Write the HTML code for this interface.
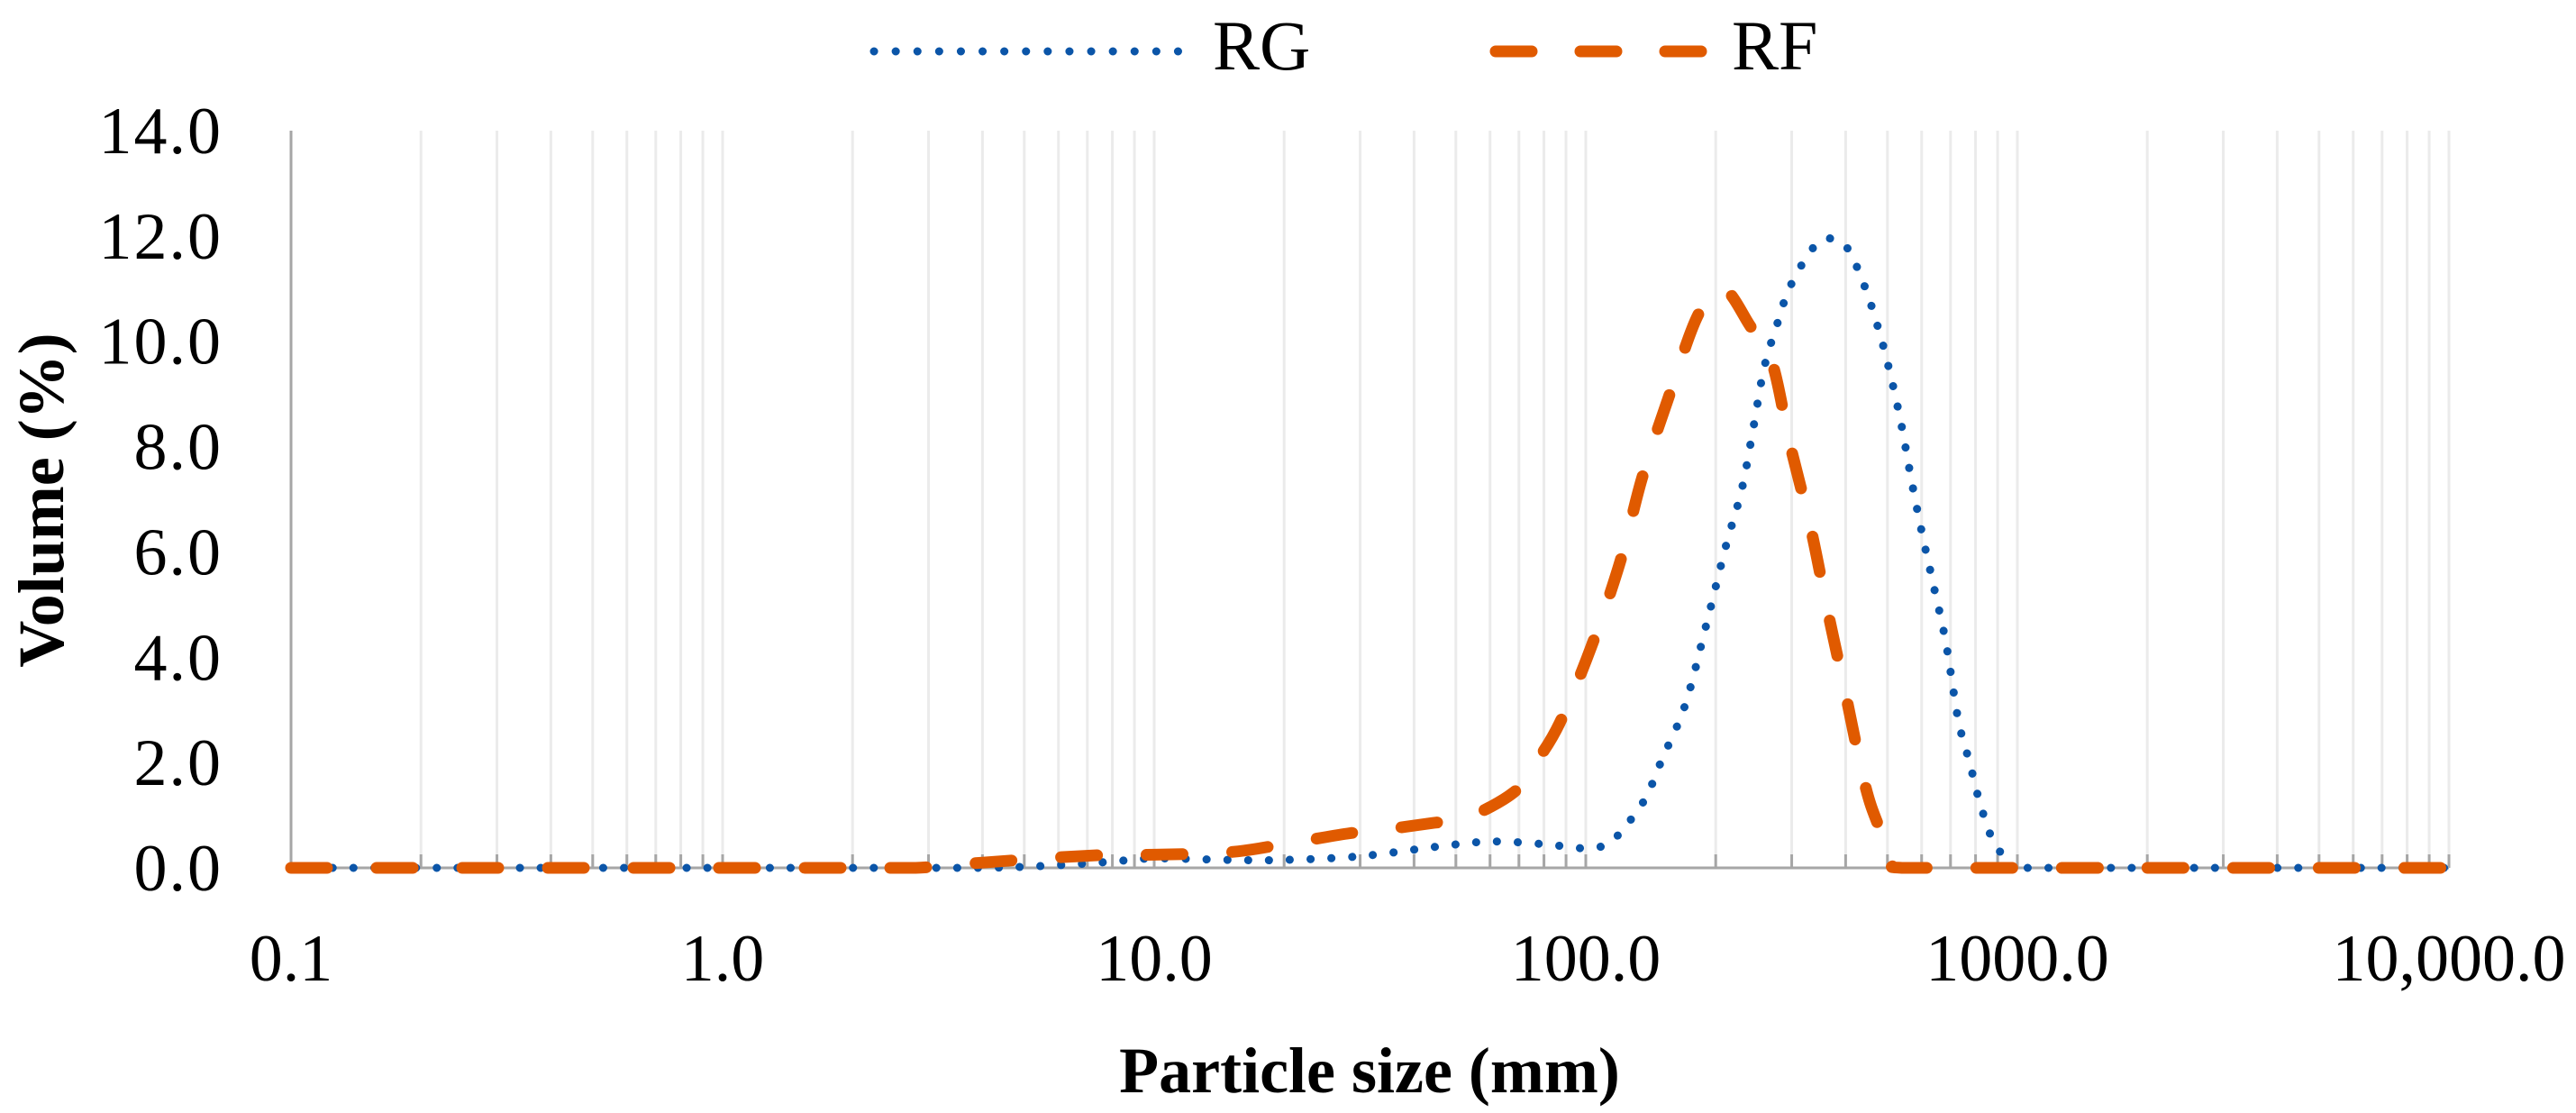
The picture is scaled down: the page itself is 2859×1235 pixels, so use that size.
<!DOCTYPE html>
<html><head><meta charset="utf-8"><style>
html,body{margin:0;padding:0;background:#fff;}
svg{display:block;font-family:"Liberation Serif",serif;}
</style></head><body>
<svg id="chart" width="2859" height="1235" viewBox="0 0 2859 1235">
<g id="grid"></g>
<g id="axes"></g>
<g id="series"></g>
<g>
  <g>
    <line x1="970" y1="57" x2="1328" y2="57" stroke="#0b55a8" stroke-width="9" stroke-linecap="round" stroke-dasharray="0.1 24"/>
    <text x="1346" y="77" font-size="78" fill="#000">RG</text>
  </g>
  <g>
    <line x1="1660" y1="57" x2="1900" y2="57" stroke="#e05a00" stroke-width="13" stroke-linecap="round" stroke-dasharray="40 54"/>
    <text x="1922" y="77" font-size="78" fill="#000">RF</text>
  </g>
</g>
<text x="1520" y="1212" font-size="72" font-weight="bold" text-anchor="middle">Particle size (mm)</text>
<text transform="translate(70,555) rotate(-90)" font-size="72" font-weight="bold" text-anchor="middle">Volume (%)</text>
</svg>
<script>
const yTicks = [0, 2, 4, 6, 8, 10, 12, 14];
const yTickLabels = ["0.0","2.0","4.0","6.0","8.0","10.0","12.0","14.0"];
const xTicks = [0.1, 1, 10, 100, 1000, 10000];
const xTickLabels = ["0.1","1.0","10.0","100.0","1000.0","10,000.0"];
const rgSizes = [0.1,0.2,0.4,1,2,4,6,8,10,15,20,30,45,60,80,100,112,121,137,150,170,190,211,230,245,259,277,296,331,360,401,440,470,500,536,570,607,638,682,730,775,821,880,950,1000,2000,10000];
const rgValues = [0,0,0,0,0,0,0.05,0.12,0.18,0.15,0.15,0.22,0.4,0.5,0.45,0.37,0.45,0.7,1.3,2.05,3.1,4.6,6.1,7.2,8.4,9.5,10.3,11.0,11.7,11.95,11.8,11.1,10.4,9.6,8.5,7.3,6.2,5.4,4.3,2.8,2.0,1.2,0.5,0.15,0,0,0];
const rfSizes = [0.1,0.2,0.5,1,2,2.8,4,6,8,10,15,20,28,35,44,53,68,76,87,103,120,135,155,182,208,240,270,297,331,363,400,441,473,520,540,1000,10000];
const rfValues = [0,0,0,0,0,0,0.1,0.2,0.25,0.25,0.3,0.45,0.65,0.74,0.85,0.95,1.43,1.96,2.75,4.2,5.8,7.4,8.9,10.5,11.0,10.3,9.6,8.06,6.5,4.9,3.3,1.66,0.87,0.14,0,0,0];

const NS = "http://www.w3.org/2000/svg";
const X0 = 323, DEC = 479, Y0 = 963, Y14 = 145;
function xs(v){ return X0 + (Math.log10(v) + 1) * DEC; }
function ys(v){ return Y0 - v * (Y0 - Y14) / 14; }
function mk(tag, attrs, parent){ const e = document.createElementNS(NS, tag); for (const k in attrs) e.setAttribute(k, attrs[k]); parent.appendChild(e); return e; }

const grid = document.getElementById('grid');
const axes = document.getElementById('axes');
const series = document.getElementById('series');

for (let d = -1; d < 4; d++) {
  for (let m = 1; m <= 10; m++) {
    if (m === 1 && d > -1) continue;
    const v = m * Math.pow(10, d);
    const x = xs(v);
    const g = mk('line', {x1:x, y1:Y14, x2:x, y2:Y0, stroke:'#ebebeb', 'stroke-width':3}, grid);
    
    
    const t = mk('line', {x1:x, y1:Y0-15, x2:x, y2:Y0, stroke:'#a6a6a6', 'stroke-width':3}, axes);
    
    
  }
}
const ya = mk('line', {x1:X0, y1:Y14, x2:X0, y2:Y0, stroke:'#a6a6a6', 'stroke-width':3}, axes);


const xa = mk('line', {x1:X0, y1:Y0, x2:xs(10000), y2:Y0, stroke:'#a6a6a6', 'stroke-width':3}, axes);



yTicks.forEach((v, i) => {
  const t = mk('text', {x:247, y:ys(v)+25, 'font-size':74, 'text-anchor':'end', fill:'#000', 'letter-spacing':2}, axes);
  t.textContent = yTickLabels[i];
  
  
});
xTicks.forEach((v, i) => {
  const t = mk('text', {x:xs(v), y:1088, 'font-size':74, 'text-anchor':'middle', fill:'#000'}, axes);
  t.textContent = xTickLabels[i];
  
  
});

function pathFor(sizes, vals){
  const p = sizes.map((s, i) => [xs(s), ys(vals[i])]);
  let d = 'M' + p[0][0].toFixed(1) + ' ' + p[0][1].toFixed(1);
  for (let i = 0; i < p.length - 1; i++) {
    const p0 = p[i-1] || p[i], p1 = p[i], p2 = p[i+1], p3 = p[i+2] || p2;
    let c1x = p1[0] + (p2[0]-p0[0])/6, c1y = p1[1] + (p2[1]-p0[1])/6;
    let c2x = p2[0] - (p3[0]-p1[0])/6, c2y = p2[1] - (p3[1]-p1[1])/6;
    c1y = Math.min(c1y, Y0); c2y = Math.min(c2y, Y0);
    d += ' C' + c1x.toFixed(1) + ' ' + c1y.toFixed(1) + ' ' + c2x.toFixed(1) + ' ' + c2y.toFixed(1) + ' ' + p2[0].toFixed(1) + ' ' + p2[1].toFixed(1);
  }
  return d;
}
const rg = mk('path', {d:pathFor(rgSizes, rgValues), fill:'none', stroke:'#0b55a8', 'stroke-width':9, 'stroke-linecap':'round', 'stroke-dasharray':'0.1 23'}, series);


const rf = mk('path', {d:pathFor(rfSizes, rfValues), fill:'none', stroke:'#e05a00', 'stroke-width':13, 'stroke-linecap':'round', 'stroke-dasharray':'40 55'}, series);


</script>
</body></html>
